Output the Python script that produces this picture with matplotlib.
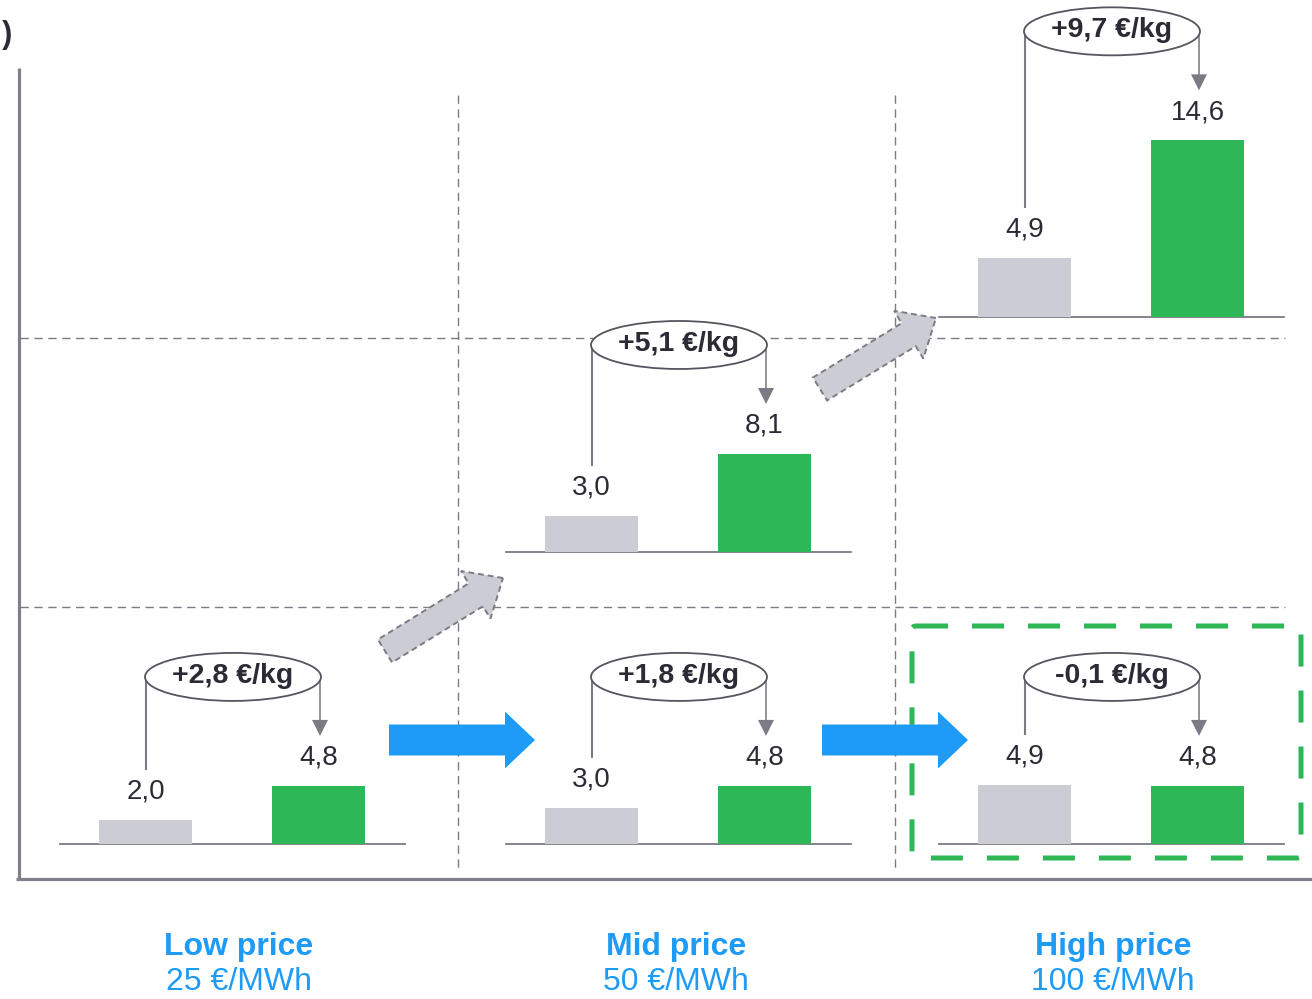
import numpy as np
import matplotlib
matplotlib.use("Agg")
import matplotlib.pyplot as plt
from matplotlib.patches import Ellipse, FancyArrow, FancyBboxPatch

plt.rcParams['font.family'] = ['Liberation Sans', 'DejaVu Sans']

# price scenarios along the x axis
scenarios = ["Low price", "Mid price", "High price"]
power_prices = ["25 €/MWh", "50 €/MWh", "100 €/MWh"]

# one mini bar pair per panel: grey = reference cost, green = new cost (€/kg)
panel_col = [0, 1, 1, 2, 2]
panel_row = [0, 0, 1, 0, 2]
grey_vals = [2.0, 3.0, 3.0, 4.9, 4.9]
green_vals = [4.8, 4.8, 8.1, 4.8, 14.6]

GREY = "#cbccd4"
GREEN = "#2eb757"
BLUE = "#1d9bf6"
LINE = "#7b7b85"
TXT = "#2b2b35"

S = 12.1                      # pixels per €/kg
col_left = [60, 506, 939]     # left end of each panel baseline
row_base = [844, 552, 317]    # baseline height of each row
label_x = [239, 676, 1113]    # centres of the scenario captions

def fmt(v):
    return f"{v:+.1f}".replace(".", ",") if v else "0,0"

fig = plt.figure(figsize=(13.12, 9.99), dpi=100)
ax = fig.add_axes([0, 0, 1, 1])
ax.set_xlim(0, 1312)
ax.set_ylim(999, 0)
ax.axis("off")

# frame
ax.plot([19, 19], [68, 880], color="#80808a", lw=2.3, solid_capstyle="butt")
ax.plot([16, 1312], [879, 879], color="#80808a", lw=2.3, solid_capstyle="butt")
ax.text(13, 35, "(€/kg)", ha="right", va="center", fontsize=22,
        fontweight="bold", color=TXT)

# dashed grid
for yy in [338, 607]:
    ax.plot([20, 1285], [yy, yy], color=LINE, lw=1, ls=(0, (6, 4)))
for xx in [458, 895]:
    ax.plot([xx, xx], [95, 870], color=LINE, lw=1, ls=(0, (6, 4)))

# highlighted panel
box = FancyBboxPatch((912, 626), 389, 232, boxstyle="round,pad=0,rounding_size=4",
                     fill=False, edgecolor=GREEN, lw=3.6, ls=(0, (6.4, 4.8)), zorder=2)
ax.add_patch(box)

# step arrows between scenarios
for x0 in [389, 822]:
    ax.add_patch(FancyArrow(x0, 740, 146, 0, width=31, head_width=57, head_length=30,
                            length_includes_head=True, color=BLUE, lw=0, zorder=3))
for (x0, y0, x1, y1) in [(385, 651, 503, 578), (820, 389, 936, 318)]:
    ax.add_patch(FancyArrow(x0, y0, x1 - x0, y1 - y0, width=27, head_width=56,
                            head_length=32, length_includes_head=True,
                            facecolor=GREY, edgecolor=LINE, lw=1.4,
                            ls=(0, (3, 2)), zorder=3))

# mini bar charts
for c, r, g, n in zip(panel_col, panel_row, grey_vals, green_vals):
    x0 = col_left[c]
    base = row_base[r]
    xg, xn = x0 + 85.5, x0 + 258.5
    ax.plot([x0, x0 + 345], [base, base], color="#6e6e78", lw=1.2, zorder=4)
    ax.bar([xg, xn], [-g * S, -n * S], bottom=base, width=93,
           color=[GREY, GREEN], zorder=4)
    yg = base - g * S - 28
    yn = base - n * S - 28
    ax.text(xg, yg, f"{g:.1f}".replace(".", ","), ha="center", va="center",
            fontsize=20, color=TXT, zorder=5)
    ax.text(xn, yn, f"{n:.1f}".replace(".", ","), ha="center", va="center",
            fontsize=20, color=TXT, zorder=5)

    # difference bubble with connector and arrow
    ey = yn - 81
    ex0, ex1 = xg + 0.5, xn + 1.5
    ax.plot([ex0, ex0], [ey, yg - 23], color=LINE, lw=1.5, zorder=5)
    ax.add_patch(FancyArrow(ex1, ey, 0, (yn - 22) - ey, width=1.6, head_width=16,
                            head_length=16, length_includes_head=True,
                            color=LINE, lw=0, zorder=5))
    ax.add_patch(Ellipse(((ex0 + ex1) / 2, ey), ex1 - ex0 + 2, 48,
                         facecolor="white", edgecolor="#55555f", lw=1.3, zorder=6))
    ax.text((ex0 + ex1) / 2, ey - 1, fmt(round(n - g, 1)) + " €/kg", ha="center",
            va="center", fontsize=20.5, fontweight="bold", color=TXT, zorder=7)

# scenario labels
for cx, name, price in zip(label_x, scenarios, power_prices):
    ax.text(cx, 947, name, ha="center", va="center", fontsize=23,
            fontweight="bold", color=BLUE)
    ax.text(cx, 982, price, ha="center", va="center", fontsize=23, color=BLUE)

fig.savefig("out.png", dpi=100)
